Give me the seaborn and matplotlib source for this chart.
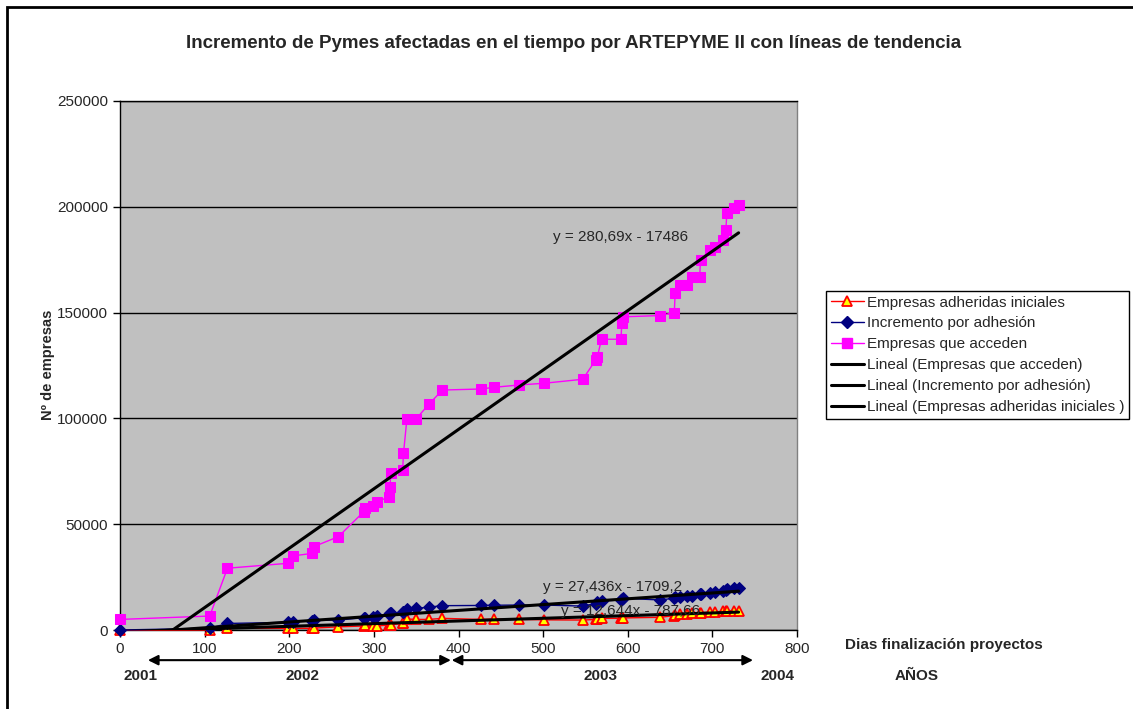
import numpy as np
import pandas as pd
import matplotlib
matplotlib.use('Agg')
import matplotlib.pyplot as plt
import seaborn as sns
from matplotlib.patches import Rectangle
from matplotlib.lines import Line2D

# days since start of programme (shared by the three series)
days = [0, 106, 127, 198, 204, 227, 229, 258, 288, 290,
        299, 304, 318, 319, 320, 334, 335, 339, 350, 365,
        381, 427, 442, 472, 501, 547, 562, 564, 569, 592,
        593, 594, 638, 655, 656, 662, 670, 676, 685, 686,
        697, 703, 713, 716, 717, 725, 731]

acceden = [5000, 6600, 29200, 31500, 35000, 36200, 39400, 44100, 55900, 57500,
           58800, 60600, 63000, 67700, 74000, 75600, 83500, 99600, 99800, 106700,
           113400, 113900, 114700, 115800, 116600, 118500, 127600, 129000, 137400, 137400,
           145000, 148000, 148600, 150000, 159100, 163000, 163000, 167000, 167000, 174900,
           179600, 181100, 184300, 189000, 196900, 199300, 200800]

adhesion = [0, 800, 3100, 3600, 3900, 4400, 4500, 4700, 5800, 5900,
            6300, 6700, 7600, 7800, 7900, 8300, 8700, 9800, 10200, 10800,
            11500, 11600, 11700, 11800, 11800, 11300, 12500, 13000, 13700, 14200,
            14600, 15000, 14200, 15000, 15400, 15700, 16000, 16300, 16800, 17000,
            17700, 18100, 18600, 19000, 19300, 19700, 20000]

iniciales = [0, 0, 800, 800, 800, 800, 900, 1500, 1900, 2300,
             1900, 1900, 2400, 2400, 2500, 3100, 3200, 5200, 5000, 5000,
             5500, 5000, 5200, 5000, 4800, 4700, 5000, 5200, 5500, 5500,
             5600, 5700, 6000, 6800, 7100, 7400, 7700, 7900, 8100, 8200,
             8400, 8600, 8800, 8900, 9000, 9100, 9100]

# trendline coefficients (slope, intercept) as printed on the chart
trend_acceden = (280.69, -17486)
trend_adhesion = (27.436, -1709.2)
trend_iniciales = (12.644, -787.66)

years = ['2001', '2002', '2003', '2004']

sns.set_style('ticks')
plt.rcParams['font.family'] = ['Liberation Sans', 'DejaVu Sans']

df = pd.DataFrame({'dias': days, 'acceden': acceden,
                   'adhesion': adhesion, 'iniciales': iniciales})

W, H = 1133, 709
fig = plt.figure(figsize=(W / 100, H / 100), dpi=100)
ax = fig.add_axes([120/W, 1-630/H, 677/W, 529/H])
ax.set_facecolor('#C0C0C0')

sns.lineplot(data=df, x='dias', y='iniciales', ax=ax, color='#FF0000', lw=1,
             marker='^', markersize=7, markerfacecolor='#FFFF00',
             markeredgecolor='#FF0000', markeredgewidth=1.3,
             estimator=None, clip_on=False, zorder=3)
sns.lineplot(data=df, x='dias', y='adhesion', ax=ax, color='#000080', lw=1,
             marker='D', markersize=6, markeredgecolor='#000080',
             estimator=None, clip_on=False, zorder=3)
sns.lineplot(data=df, x='dias', y='acceden', ax=ax, color='#FF00FF', lw=1,
             marker='s', markersize=7, markeredgecolor='#FF00FF',
             estimator=None, clip_on=False, zorder=3)

xt = np.array([days[0], days[-1]])
for m, b in [trend_acceden, trend_adhesion, trend_iniciales]:
    sns.lineplot(x=xt, y=m * xt + b, ax=ax, color='black', lw=2.2, zorder=4)

ax.set_xlim(0, 800)
ax.set_ylim(0, 250000)
ax.set_xticks(range(0, 801, 100))
ax.set_yticks(range(0, 250001, 50000))
ax.yaxis.grid(True, color='black', lw=1)
ax.set_axisbelow(True)
ax.tick_params(axis='both', labelsize=11, length=5, width=1, color='black', direction='out')
ax.set_xlabel('')
ax.set_ylabel('')
for s in ['left', 'bottom', 'top']:
    ax.spines[s].set_color('black')
ax.spines['right'].set_color('#808080')
for s in ax.spines.values():
    s.set_linewidth(1)

# equations of the trend lines
ax.text(512, 185700, 'y = 280,69x - 17486', fontsize=11, va='center', zorder=5)
ax.text(500, 20300, 'y = 27,436x - 1709,2', fontsize=11, va='center', zorder=5)
ax.text(521, 9000, 'y = 12,644x - 787,66', fontsize=11, va='center', zorder=5)

fig.text(574/W, 1-44/H, 'Incremento de Pymes afectadas en el tiempo por ARTEPYME II con líneas de tendencia',
         ha='center', va='center', fontsize=13.5, fontweight='bold')
fig.text(48/W, 1-365/H, 'Nº de empresas', rotation=90, ha='center', va='center',
         fontsize=10.5, fontweight='bold')
fig.text(845/W, 1-645/H, 'Dias finalización proyectos', ha='left', va='center',
         fontsize=11, fontweight='bold')

# years below the axis
for lab, px in zip(years, [141, 302, 600, 778]):
    fig.text(px/W, 1-676/H, lab, ha='center', va='center', fontsize=11, fontweight='bold')
fig.text(917/W, 1-676/H, 'AÑOS', ha='center', va='center', fontsize=11, fontweight='bold')

trans = ax.get_xaxis_transform()
for x0, x1 in [(33, 391), (392, 748)]:
    ax.annotate('', xy=(x1, -0.057), xytext=(x0, -0.057), xycoords=trans,
                textcoords=trans, annotation_clip=False,
                arrowprops=dict(arrowstyle='<|-|>', color='black', lw=1.5,
                                mutation_scale=15, shrinkA=0, shrinkB=0))

# legend
handles = [
    Line2D([], [], color='#FF0000', lw=1, marker='^', markersize=7,
           markerfacecolor='#FFFF00', markeredgecolor='#FF0000', markeredgewidth=1.3),
    Line2D([], [], color='#000080', lw=1, marker='D', markersize=6),
    Line2D([], [], color='#FF00FF', lw=1, marker='s', markersize=7),
    Line2D([], [], color='black', lw=2.2),
    Line2D([], [], color='black', lw=2.2),
    Line2D([], [], color='black', lw=2.2),
]
labels = ['Empresas adheridas iniciales', 'Incremento por adhesión', 'Empresas que acceden',
          'Lineal (Empresas que acceden)', 'Lineal (Incremento por adhesión)',
          'Lineal (Empresas adheridas iniciales )']
leg = fig.legend(handles, labels, loc='upper left', bbox_to_anchor=(826/W, 1-291/H),
                 fontsize=11, frameon=True, fancybox=False, framealpha=1,
                 edgecolor='black', handlelength=2.2, handletextpad=0.2,
                 labelspacing=0.45, borderpad=0.3, borderaxespad=0)
leg.get_frame().set_linewidth(1)

# chart area border (cut at right and bottom edges)
fig.patches.append(Rectangle((7/W, -0.1), 1.2, 1.1 - 7/H, transform=fig.transFigure,
                             fill=False, ec='black', lw=2))

fig.savefig('out.png', dpi=100)
